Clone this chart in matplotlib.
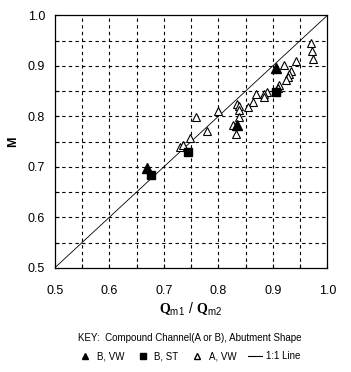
import matplotlib
matplotlib.use('Agg')
import matplotlib.pyplot as plt
from matplotlib.lines import Line2D
import numpy as np

plt.rcParams['font.family'] = ['Liberation Sans', 'DejaVu Sans']
plt.rcParams['mathtext.fontset'] = 'custom'
plt.rcParams['mathtext.rm'] = 'Liberation Sans'
plt.rcParams['mathtext.bf'] = 'Liberation Serif:bold'

# compound channel B, vertical wall abutment
bvw_x = [0.669, 0.835, 0.905]
bvw_y = [0.698, 0.783, 0.896]

# compound channel B, spill-through abutment
bst_x = [0.677, 0.745, 0.906]
bst_y = [0.683, 0.730, 0.849]

# compound channel A, vertical wall abutment
avw_x = [0.970, 0.972, 0.974, 0.943, 0.921, 0.933, 0.930, 0.927, 0.924, 0.912,
         0.909, 0.890, 0.883, 0.884, 0.869, 0.863, 0.855, 0.834, 0.837, 0.838,
         0.800, 0.759, 0.838, 0.827, 0.833, 0.780, 0.748, 0.730, 0.736]
avw_y = [0.945, 0.929, 0.913, 0.910, 0.901, 0.890, 0.884, 0.877, 0.872, 0.862,
         0.856, 0.849, 0.844, 0.838, 0.844, 0.829, 0.819, 0.824, 0.820, 0.812,
         0.811, 0.799, 0.799, 0.783, 0.764, 0.771, 0.758, 0.739, 0.743]

ticks = [0.5, 0.6, 0.7, 0.8, 0.9, 1.0]

fig = plt.figure(figsize=(3.51, 3.72), dpi=100)
ax = fig.add_axes([0.156, 0.280, 0.777, 0.679])

# dashed grid every 0.05
for g in np.arange(0.55, 1.0, 0.05):
    ax.axvline(g, color='black', lw=0.8, ls=(0, (3, 3)), zorder=1)
    ax.axhline(g, color='black', lw=0.8, ls=(0, (3, 3)), zorder=1)

ax.plot([0.5, 1.0], [0.5, 1.0], color='black', lw=0.6, zorder=2)

ax.plot(avw_x, avw_y, ls='none', marker='^', ms=6, mfc='white', mec='black',
        mew=0.8, zorder=3)
ax.plot(bvw_x, bvw_y, ls='none', marker='^', ms=6.5, mfc='black', mec='black', zorder=4)
ax.plot(bst_x, bst_y, ls='none', marker='s', ms=5.5, mfc='black', mec='black', zorder=4)

ax.set_xlim(0.5, 1.0)
ax.set_ylim(0.5, 1.0)
ax.set_xticks(ticks)
ax.set_yticks(ticks)
ax.set_xticklabels(['%.1f' % t for t in ticks])
ax.set_yticklabels(['%.1f' % t for t in ticks])
ax.set_xticks(np.arange(0.55, 1.0, 0.1), minor=True)
ax.set_yticks(np.arange(0.55, 1.0, 0.1), minor=True)
ax.tick_params(which='both', direction='in', length=3, width=0.8, labelsize=9)
ax.tick_params(axis='x', pad=12)
ax.tick_params(axis='y', pad=7)
for s in ax.spines.values():
    s.set_linewidth(0.9)

ax.set_xlabel(r'$\mathbf{Q}_{\rm m1}\ /\ \mathbf{Q}_{\rm m2}$', fontsize=10, labelpad=3)
ax.set_ylabel('M', fontsize=9, fontweight='bold', labelpad=6)

fig.text(0.54, 0.092, 'KEY:  Compound Channel(A or B), Abutment Shape',
         ha='center', va='center', fontsize=7)

handles = [
    Line2D([], [], ls='none', marker='^', ms=5, mfc='black', mec='black'),
    Line2D([], [], ls='none', marker='s', ms=5, mfc='black', mec='black'),
    Line2D([], [], ls='none', marker='^', ms=5, mfc='white', mec='black'),
    Line2D([], [], color='black', lw=0.8),
]
labels = ['B, VW', 'B, ST', 'A, VW', '1:1 Line']
fig.legend(handles, labels, loc='center', bbox_to_anchor=(0.54, 0.043), ncol=4,
           frameon=False, fontsize=7, handlelength=1.4, handletextpad=0.5,
           columnspacing=1.2)

fig.savefig('out.png', dpi=100)
